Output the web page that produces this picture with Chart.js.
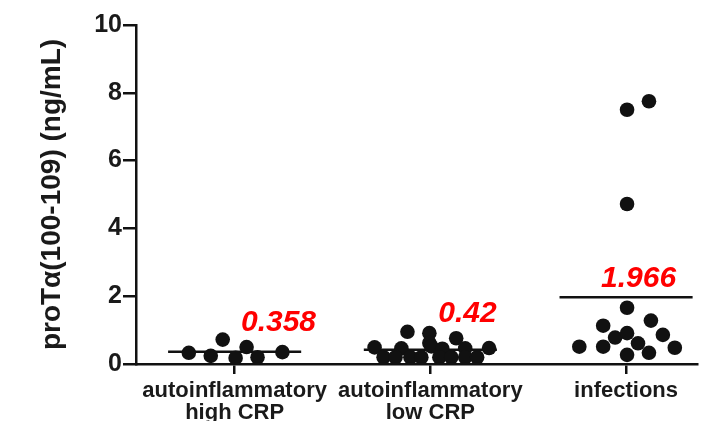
<!DOCTYPE html>
<html><head><meta charset="utf-8">
<script src="https://cdn.jsdelivr.net/npm/chart.js@4/dist/chart.umd.min.js"></script>
<style>html,body{margin:0;padding:0;background:#fff}#wrap{width:705px;height:421px}</style>
</head><body><div id="wrap"><canvas id="c" width="705" height="421"></canvas></div>
<script>
// ---- data ----
const categories = ["autoinflammatory high CRP", "autoinflammatory low CRP", "infections"];
const categoryPos = [1, 2, 3];
const tickLabels = [["autoinflammatory", "high CRP"], ["autoinflammatory", "low CRP"], ["infections"]];
const yTickValues = [0, 2, 4, 6, 8, 10];

const highCrpValues = [0.33, 0.24, 0.72, 0.18, 0.50, 0.20, 0.35];
const highCrpJitter = [-0.234, -0.122, -0.061, 0.005, 0.061, 0.117, 0.244];

const lowCrpValues = [0.95, 0.91, 0.76, 0.62, 0.52,
                      0.49, 0.46, 0.45, 0.46, 0.47,
                      0.20, 0.20, 0.20, 0.20, 0.20, 0.20, 0.20, 0.20];
const lowCrpJitter = [-0.117, -0.005, 0.132, -0.005, 0.005,
                      -0.285, -0.148, 0.061, 0.178, 0.300,
                      -0.239, -0.178, -0.102, -0.046, 0.046, 0.107, 0.178, 0.239];

const infectionValues = [7.50, 7.75, 4.72, 1.66, 1.13, 1.28, 0.78, 0.91, 0.86, 0.51, 0.51, 0.61, 0.48, 0.27, 0.33];
const infectionJitter = [0.005, 0.117, 0.005, 0.005, -0.117, 0.127, -0.056, 0.005, 0.188, -0.239, -0.117, 0.061, 0.249, 0.005, 0.117];

const meanValues = [0.358, 0.42, 1.966];
const meanLabels = ["0.358", "0.42", "1.966"];

// ---- presentation ----
const meanHalfWidth = 0.34;
const labelOffsets = [{dx: 0.224, dy: 29}, {dx: 0.19, dy: 36}, {dx: 0.064, dy: 19}];
const FONT = '"Liberation Sans", Arial, sans-serif';

function pts(c, vals, jit) { return vals.map((v, i) => ({x: c + jit[i], y: v})); }

const groups = [[highCrpValues, highCrpJitter], [lowCrpValues, lowCrpJitter], [infectionValues, infectionJitter]];

const datasets = [];
groups.forEach((g, i) => {
  datasets.push({
    type: 'scatter', label: categories[i], data: pts(categoryPos[i], g[0], g[1]),
    pointRadius: 7.3, pointHoverRadius: 7.3, backgroundColor: '#111', borderWidth: 0
  });
});
meanValues.forEach((m, i) => {
  datasets.push({
    type: 'line', label: 'mean ' + categories[i],
    data: [{x: categoryPos[i] - meanHalfWidth, y: m}, {x: categoryPos[i] + meanHalfWidth, y: m}],
    borderColor: '#111', borderWidth: 2.5, pointRadius: 0, fill: false
  });
});

const bgPlugin = {
  id: 'bg',
  beforeDraw(chart) {
    const ctx = chart.ctx; ctx.save(); ctx.fillStyle = '#fff';
    ctx.fillRect(0, 0, chart.width, chart.height); ctx.restore();
  }
};
const meanLabelPlugin = {
  id: 'meanLabels',
  afterDatasetsDraw(chart) {
    const {ctx, scales: {x, y}} = chart;
    ctx.save();
    ctx.font = 'italic bold 30px ' + FONT;
    ctx.fillStyle = '#ff0000';
    ctx.textAlign = 'center'; ctx.textBaseline = 'middle';
    meanValues.forEach((m, i) => {
      const px = x.getPixelForValue(categoryPos[i] + labelOffsets[i].dx);
      const py = y.getPixelForValue(m) - labelOffsets[i].dy;
      ctx.fillText(meanLabels[i], px, py);
    });
    ctx.restore();
  }
};

new Chart(document.getElementById('c'), {
  data: {datasets},
  plugins: [bgPlugin, meanLabelPlugin],
  options: {
    responsive: false, devicePixelRatio: 1, animation: false,
    layout: {padding: {top: 25, right: 5, left: 0, bottom: 0}},
    plugins: {legend: {display: false}, tooltip: {enabled: false}},
    scales: {
      x: {
        type: 'linear', min: 0.496, max: 3.366,
        afterBuildTicks: s => { s.ticks = categoryPos.map(v => ({value: v})); },
        afterFit: s => { s.height = 57; },
        ticks: {
          autoSkip: false, maxRotation: 0, padding: 6, color: '#1a1a1a',
          font: {family: FONT, size: 22, weight: 'bold', lineHeight: 1.0},
          callback: v => { const i = categoryPos.indexOf(v); return i >= 0 ? tickLabels[i] : ''; }
        },
        grid: {drawOnChartArea: false, drawTicks: true, tickLength: 10, color: '#111', lineWidth: 2.5},
        border: {display: true, color: '#111', width: 2.5}
      },
      y: {
        type: 'linear', min: 0, max: 10,
        afterBuildTicks: s => { s.ticks = yTickValues.map(v => ({value: v})); },
        afterFit: s => { s.width = 136; },
        ticks: {
          padding: 1, color: '#1a1a1a',
          font: {family: FONT, size: 25, weight: 'bold'}
        },
        grid: {drawOnChartArea: false, drawTicks: true, tickLength: 13, color: '#111', lineWidth: 2.5},
        border: {display: true, color: '#111', width: 2.5},
        title: {
          display: true, text: 'proTα(100-109) (ng/mL)', color: '#1a1a1a',
          font: {family: FONT, size: 28, weight: 'bold'},
          padding: {top: 35, bottom: 0}
        }
      }
    }
  }
});
</script>
</body></html>
